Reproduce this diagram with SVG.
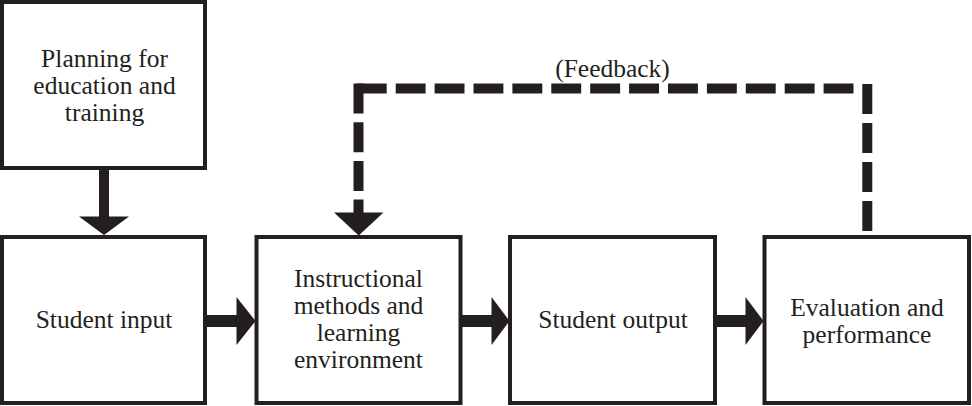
<svg xmlns="http://www.w3.org/2000/svg" width="972" height="406" viewBox="0 0 972 406">
  <style>
    .box { fill: #ffffff; stroke: #231f20; stroke-width: 4; }
    .lbl { font-family: "Liberation Serif", "Times New Roman", serif; font-size: 25.5px; fill: #231f20; text-anchor: middle; }
    .solid { fill: #231f20; stroke: none; }
    .dash { fill: none; stroke: #231f20; stroke-width: 10; stroke-linecap: butt; }
  </style>
  <rect width="972" height="406" fill="#ffffff"/>
  <g id="connectors">
    <g id="planning-to-input">
      <rect class="solid" x="99" y="169" width="10" height="48"/>
      <polygon class="solid" points="79,216.5 129,216.5 104,235"/>
    </g>
    <g id="input-to-instructional">
      <rect class="solid" x="206" y="315" width="31" height="12"/>
      <polygon class="solid" points="236.5,297 236.5,345 255.5,321"/>
    </g>
    <g id="instructional-to-output">
      <rect class="solid" x="461" y="315" width="31" height="12"/>
      <polygon class="solid" points="491.5,297 491.5,345 509.5,321"/>
    </g>
    <g id="output-to-evaluation">
      <rect class="solid" x="716" y="315" width="30" height="12"/>
      <polygon class="solid" points="745.5,297 745.5,345 763.5,321"/>
    </g>
    <g id="feedback">
      <path class="dash" d="M867.3,231 V83.5" stroke-dasharray="30 9"/>
      <path class="dash" d="M853.5,88.5 H353" stroke-dasharray="29.9 9"/>
      <path class="dash" d="M358.5,83.5 V213" stroke-dasharray="30 8.7"/>
      <polygon class="solid" points="334,212.5 383.5,212.5 358.7,235.5"/>
      <text class="lbl" x="612.5" y="77">(Feedback)</text>
    </g>
  </g>
  <g id="planning">
    <rect class="box" x="2" y="2" width="203" height="166"/>
    <text class="lbl" x="104.5" y="67">Planning for</text>
    <text class="lbl" x="104.5" y="94">education and</text>
    <text class="lbl" x="104.5" y="121">training</text>
  </g>
  <g id="student-input">
    <rect class="box" x="2" y="237" width="203" height="166"/>
    <text class="lbl" x="104" y="328">Student input</text>
  </g>
  <g id="instructional">
    <rect class="box" x="256.5" y="237" width="204" height="166"/>
    <text class="lbl" x="358.5" y="287">Instructional</text>
    <text class="lbl" x="358.5" y="314">methods and</text>
    <text class="lbl" x="358.5" y="341">learning</text>
    <text class="lbl" x="358.5" y="368">environment</text>
  </g>
  <g id="student-output">
    <rect class="box" x="510" y="237" width="205" height="166"/>
    <text class="lbl" x="613" y="328">Student output</text>
  </g>
  <g id="evaluation">
    <rect class="box" x="764.5" y="237" width="204.5" height="166"/>
    <text class="lbl" x="867" y="315.5">Evaluation and</text>
    <text class="lbl" x="867" y="342.5">performance</text>
  </g>
</svg>
